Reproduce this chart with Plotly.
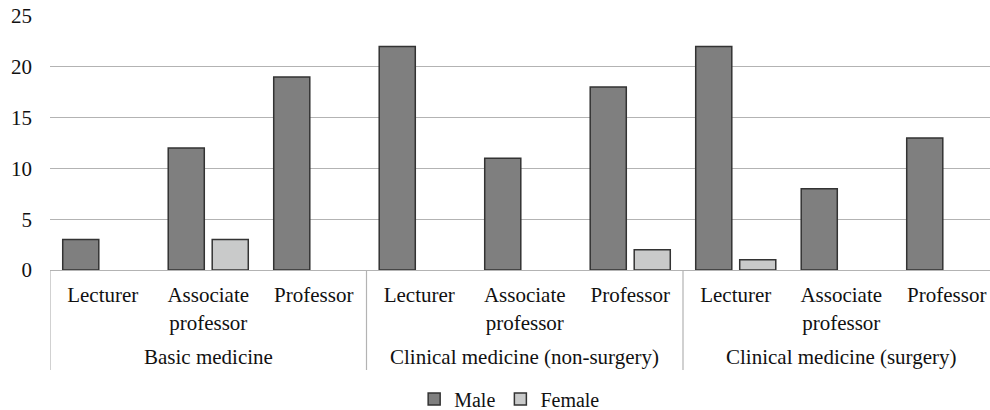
import plotly.graph_objects as go

groups = ["Basic medicine", "Clinical medicine (non-surgery)", "Clinical medicine (surgery)"]
ranks = ["Lecturer", "Associate<br>professor", "Professor"]
male = [3, 12, 19, 22, 11, 18, 22, 8, 13]
female = [0, 3, 0, 0, 0, 2, 1, 0, 0]
y_ticks = [0, 5, 10, 15, 20, 25]

FONT = "Liberation Serif"
TXT = "#111111"
xpos = list(range(len(male)))
ticktext = ranks * len(groups)

# zero counts are drawn as no bar at all (as in the reference)
male_plot = [v if v else None for v in male]
female_plot = [v if v else None for v in female]

fig = go.Figure()
fig.add_trace(go.Bar(x=xpos, y=male_plot, name="Male",
                     marker=dict(color="#7f7f7f", line=dict(color="#333333", width=1.5))))
fig.add_trace(go.Bar(x=xpos, y=female_plot, name="Female",
                     marker=dict(color="#c9caca", line=dict(color="#333333", width=1.5))))

shapes = []
for i in range(len(groups)):
    shapes.append(dict(type="line", xref="x", yref="paper", x0=i * 3 - 0.5, x1=i * 3 - 0.5,
                       y0=0, y1=-100 / 254, line=dict(color="#b3b3b3", width=1.2)))
annotations = []
for i, g in enumerate(groups):
    annotations.append(dict(text=g, xref="x", yref="paper", x=i * 3 + 1, y=-87 / 254,
                            xanchor="center", yanchor="middle", showarrow=False,
                            font=dict(family=FONT, size=21, color=TXT)))

fig.update_layout(
    width=990, height=410,
    margin=dict(l=50, r=0, t=16, b=140, autoexpand=False),
    paper_bgcolor="white", plot_bgcolor="white",
    barmode="group", bargap=0.166, bargroupgap=0.18,
    font=dict(family=FONT, size=21, color=TXT),
    shapes=shapes, annotations=annotations,
    legend=dict(orientation="h", x=0.489, xanchor="center", y=-129 / 254, yanchor="middle",
                font=dict(family=FONT, size=20, color=TXT), itemwidth=30,
                traceorder="normal"),
    xaxis=dict(range=[-0.5, 8.41], tickmode="array", tickvals=xpos, ticktext=ticktext,
               showgrid=False, showline=True, linecolor="#b3b3b3", linewidth=1.2,
               ticks="", ticklabelstandoff=6, zeroline=False, automargin=False,
               tickfont=dict(family=FONT, size=21, color=TXT)),
    yaxis=dict(range=[0, 25], tickvals=y_ticks, showgrid=True, gridcolor="#b3b3b3",
               gridwidth=1.2, zeroline=False, showline=False, ticks="",
               ticklabelstandoff=17, automargin=False,
               tickfont=dict(family=FONT, size=21, color=TXT)),
)
fig.write_html("out.html", config={"displayModeBar": False},
               post_script="document.body.style.margin='0';")
